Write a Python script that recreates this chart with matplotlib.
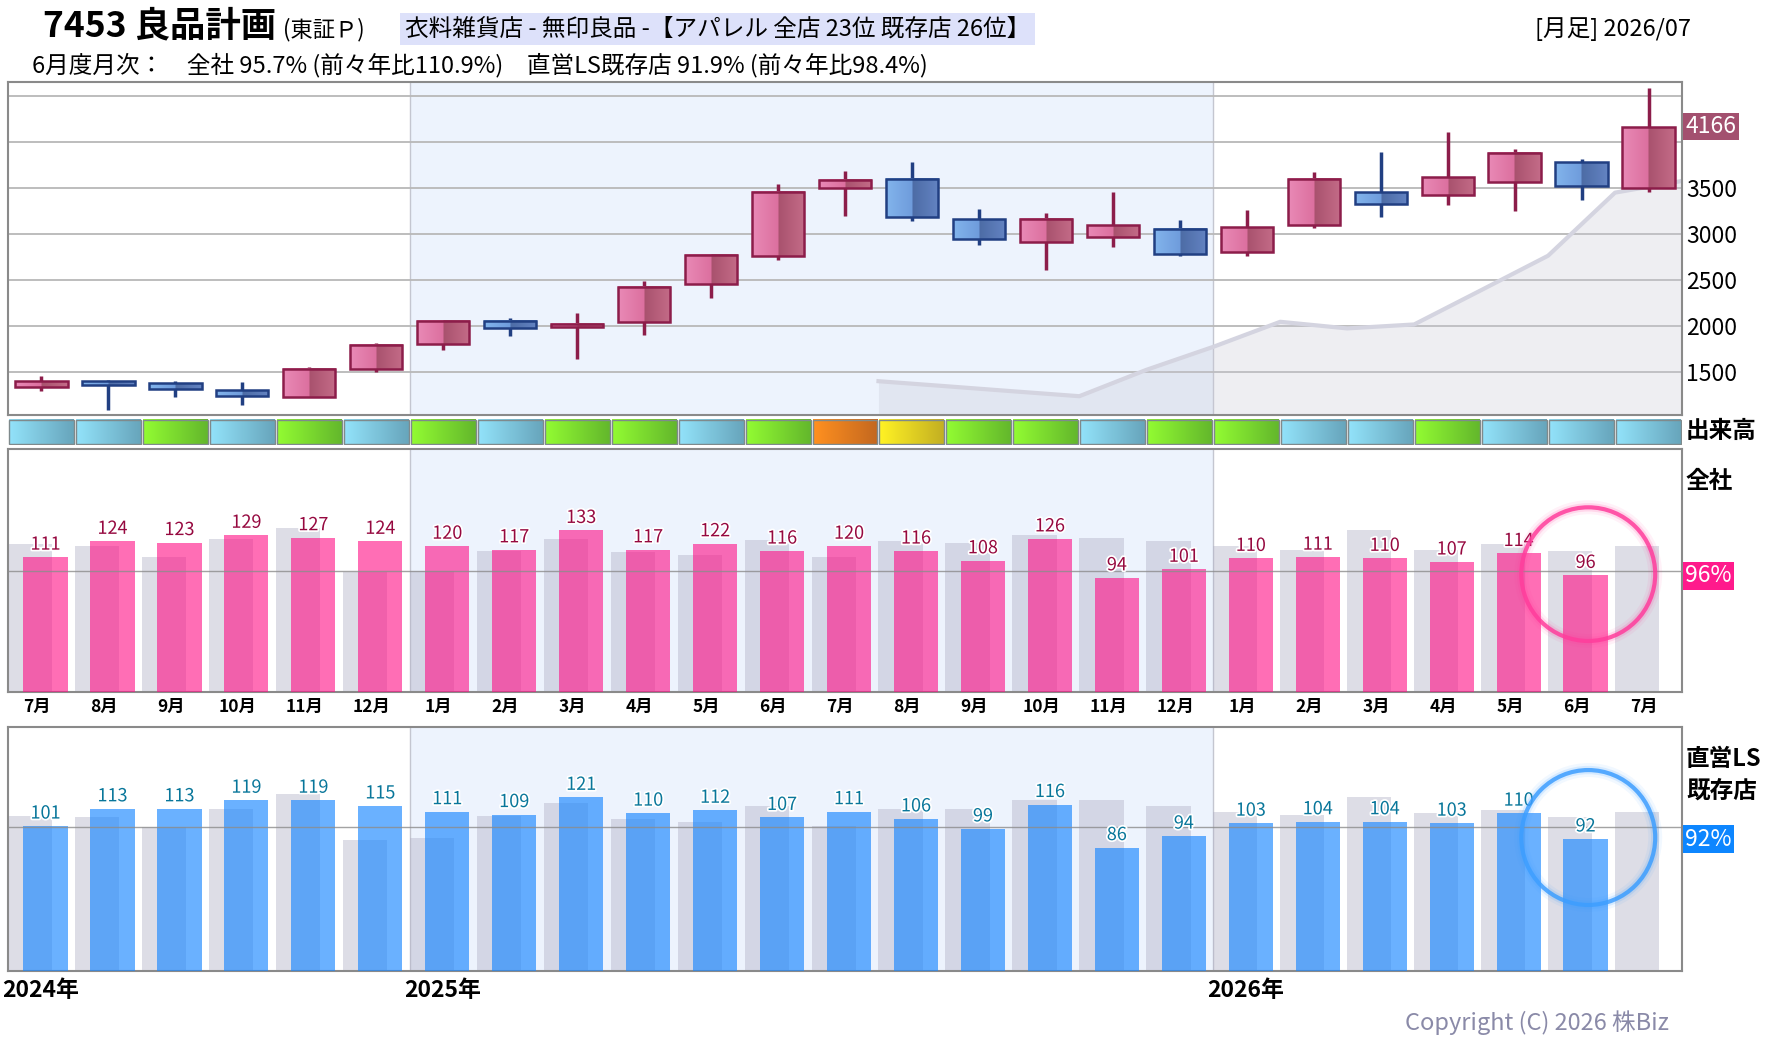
import numpy as np
import matplotlib
matplotlib.use('Agg')
import matplotlib.pyplot as plt
from matplotlib.patches import Rectangle, Ellipse
import matplotlib.patheffects as pe
import matplotlib.transforms as mtransforms
from matplotlib.colors import to_rgb

plt.rcParams['font.family'] = ['Noto Sans CJK JP', 'DejaVu Sans']

# ---- data (Jul 2024 .. Jul 2026) ----
months = ['7月', '8月', '9月', '10月', '11月', '12月', '1月', '2月', '3月', '4月', '5月', '6月',
          '7月', '8月', '9月', '10月', '11月', '12月', '1月', '2月', '3月', '4月', '5月', '6月', '7月']
opens = [1344, 1409, 1377, 1301, 1225, 1529, 1801, 2051, 1986, 2040, 2453, 2757,
         3496, 3594, 3159, 2909, 2964, 3051, 2801, 3094, 3453, 3428, 3562, 3779, 3504]
highs = [1457, 1420, 1399, 1391, 1554, 1815, 2065, 2087, 2141, 2489, 2775, 3543,
         3685, 3783, 3272, 3228, 3457, 3152, 3261, 3674, 3891, 4109, 3924, 3812, 4587]
lows = [1297, 1091, 1232, 1145, 1225, 1504, 1743, 1895, 1645, 1906, 2308, 2721,
        3199, 3145, 2884, 2612, 2862, 2764, 2764, 3069, 3188, 3319, 3254, 3373, 3460]
closes = [1409, 1366, 1312, 1246, 1529, 1790, 2051, 1975, 2025, 2420, 2768, 3453,
          3583, 3181, 2942, 3159, 3094, 2779, 3072, 3594, 3330, 3616, 3877, 3525, 4166]
# moving average line, starting at column boundary 13
ma_start = 13
ma_vals = [1402, 1348, 1293, 1239, 1525, 1775, 2047, 1975, 2018, 2390, 2764, 3449, 3576]
# volume level: 1 low, 2 mid, 3 high, 4 very high
vol_level = [1, 1, 2, 1, 2, 1, 2, 1, 2, 2, 1, 2, 4, 3, 2, 2, 1, 2, 2, 1, 1, 2, 1, 1, 1]

zensha = [111, 124, 123, 129, 127, 124, 120, 117, 133, 117, 122, 116,
          120, 116, 108, 126, 94, 101, 110, 111, 110, 107, 114, 96, None]
zensha_prev = [122, 120, 111, 126, 135, 99, 100, 116, 126, 115, 113, 125,
               111, 124, 123, 129, 127, 124, 120, 117, 133, 117, 122, 116, 120]
ls = [101, 113, 113, 119, 119, 115, 111, 109, 121, 110, 112, 107,
      111, 106, 99, 116, 86, 94, 103, 104, 104, 103, 110, 92, None]
ls_prev = [108, 107, 100, 113, 123, 91, 93, 108, 117, 106, 104, 115,
           101, 113, 113, 119, 119, 115, 111, 109, 121, 110, 112, 107, 111]

n = len(months)
x = np.arange(n)

W, H = 1780, 1054
fig = plt.figure(figsize=(W / 100, H / 100), dpi=100)


def ax_px(left, top, right, bottom):
    return fig.add_axes([left / W, 1 - bottom / H, (right - left) / W, (bottom - top) / H])


def ftext(px, py, s, **kw):
    fig.text(px / W, 1 - py / H, s, **kw)


def grad(c1, c2, m=24):
    a, b = np.array(to_rgb(c1)), np.array(to_rgb(c2))
    t = np.linspace(0, 1, m)[:, None]
    return a + (b - a) * t


def style_frame(ax):
    for s in ax.spines.values():
        s.set_color('#8a8a8a')
        s.set_linewidth(1.5)


shade = '#edf3fd'
L, R = 8, 1682

# ---- price panel ----
ax = ax_px(L, 82, R, 415)
ax.axvspan(5.5, 17.5, color=shade, zorder=0, lw=0)
for xv in (5.5, 17.5):
    ax.axvline(xv, color='#c4c6d0', lw=1, zorder=1)
ax.set_yticks([1500, 2000, 2500, 3000, 3500, 4000, 4500])
ax.set_yticklabels(['1500', '2000', '2500', '3000', '3500', '', ''])
ax.yaxis.tick_right()
ax.tick_params(axis='y', length=0, pad=3, labelsize=16.5)
ax.set_xticks([])
ax.grid(axis='y', color='#b8b8b8', lw=1.3, zorder=1)
style_frame(ax)

ma_x = np.arange(ma_start, ma_start + len(ma_vals)) - 0.5
ax.fill_between(ma_x, ma_vals, 1035, color='#c8c8d6', alpha=0.3, lw=0, zorder=2)
ax.plot(ma_x, ma_vals, color='#d4d4e0', lw=3, zorder=2)

w = 0.78
for i in range(n):
    o, h, l, c = opens[i], highs[i], lows[i], closes[i]
    if c >= o:
        g = np.vstack([grad('#e98ab6', '#dc709f'), grad('#a9526e', '#c46b88')])
        edge = '#8c1d4a'
    else:
        g = np.vstack([grad('#82b4ec', '#6f9cdc'), grad('#4d6ca6', '#6383c2')])
        edge = '#213f82'
    lo, hi = min(o, c), max(o, c)
    ax.plot([i, i], [l, h], color=edge, lw=2.5, zorder=3, solid_capstyle='butt')
    ax.imshow(g[None, :, :], extent=(i - w / 2, i + w / 2, lo, hi), aspect='auto',
              interpolation='bilinear', zorder=4)
    ax.add_patch(Rectangle((i - w / 2, lo), w, hi - lo, fc='none', ec=edge, lw=1.8, zorder=5))
ax.set_xlim(-0.5, n - 0.5)
ax.set_ylim(1035, 4650)
tr = mtransforms.blended_transform_factory(ax.transAxes, ax.transData)
ax.text(1.002, closes[-1], str(closes[-1]), transform=tr, ha='left', va='center',
        fontsize=16.5, color='white',
        bbox=dict(boxstyle='square,pad=0.1', fc='#a3506f', ec='none'))

# ---- volume strip ----
axv = ax_px(L, 419, R, 445)
axv.axis('off')
vcols = {1: ('#92e2fa', '#68a6bc'), 2: ('#92fb32', '#64b82c'),
         3: ('#fff224', '#c4b022'), 4: ('#ff901f', '#c4681f')}
for i in range(n):
    c1, c2 = vcols[vol_level[i]]
    axv.imshow(grad(c1, c2)[None, :, :], extent=(i - 0.485, i + 0.485, 0.02, 0.98),
               aspect='auto', interpolation='bilinear', zorder=2)
    axv.add_patch(Rectangle((i - 0.485, 0.02), 0.97, 0.96, fc='none', ec='#7f8a8c', lw=1, zorder=3))
axv.set_xlim(-0.5, n - 0.5)
axv.set_ylim(0, 1)
ftext(1686, 431, '出来高', fontsize=17, fontweight='bold', va='center', ha='left')


def bar_panel(top, bottom, vals, prev, ymax, color, alpha, tcolor, pct, pcolor, last):
    a = ax_px(L, top, R, bottom)
    a.set_xlim(-0.5, n - 0.5)
    a.set_ylim(0, ymax)
    a.axvspan(5.5, 17.5, color=shade, zorder=0, lw=0)
    for xv in (5.5, 17.5):
        a.axvline(xv, color='#c4c6d0', lw=1, zorder=1)
    a.bar(x - 0.17, prev, width=0.66, color='#b4b4c8', alpha=0.45, zorder=2, lw=0)
    xs = [i for i in range(n) if vals[i] is not None]
    vs = [vals[i] for i in xs]
    a.bar(np.array(xs) + 0.06, vs, width=0.66, color=color, alpha=alpha, zorder=3, lw=0)
    a.axhline(100, color='#8c8c8c', lw=1, alpha=0.8, zorder=4)
    for xi, v in zip(xs, vs):
        a.annotate(str(v), (xi + 0.06, v), xytext=(0, 2.5), textcoords='offset points',
                   ha='center', va='bottom', fontsize=13, color=tcolor, zorder=6,
                   path_effects=[pe.withStroke(linewidth=2.5, foreground='white')])
    a.set_yticks([])
    style_frame(a)
    t = mtransforms.blended_transform_factory(a.transAxes, a.transData)
    a.text(1.002, last, pct, transform=t, ha='left', va='center', fontsize=16.5, color='white',
           bbox=dict(boxstyle='square,pad=0.1', fc=pcolor, ec='none'))
    return a


axm = bar_panel(449, 692, zensha, zensha_prev, 200, (1.0, 0.05, 0.52), 0.6, '#96083f',
                '96%', '#ff1a8c', 95.7)
axb = bar_panel(727, 971, ls, ls_prev, 170, (0.10, 0.53, 1.0), 0.65, '#08769a',
                '92%', '#0d86ff', 91.9)

# highlight rings around the latest month
for a, (cx, cy, hh), col in ((axm, (23.1, 97, 110), '#ff3d9c'), (axb, (23.1, 93, 94), '#3d9eff')):
    for lw_, al in ((10, 0.07), (6, 0.15), (3, 0.85)):
        a.add_patch(Ellipse((cx, cy), 2.0, hh, fill=False, ec=col, lw=lw_, alpha=al, zorder=7))

axm.set_xticks(x - 0.07)
axm.set_xticklabels(months, fontsize=12.5, fontweight='bold')
axm.tick_params(axis='x', length=0, pad=4)
axb.set_xticks([])

ftext(1686, 481, '全社', fontsize=17, fontweight='bold', va='center', ha='left')
ftext(1686, 759, '直営LS', fontsize=17, fontweight='bold', va='center', ha='left')
ftext(1686, 791, '既存店', fontsize=17, fontweight='bold', va='center', ha='left')

# year labels
ty = mtransforms.blended_transform_factory(axb.transData, axb.transAxes)
for xv, s in ((-0.59, '2024年'), (5.41, '2025年'), (17.41, '2026年')):
    axb.text(xv, -0.08, s, transform=ty, ha='left', va='center', fontsize=16.5, fontweight='bold')

# ---- header ----
ftext(43, 26, '7453 良品計画', fontsize=25.5, fontweight='bold', va='center')
ftext(283, 30, '(東証Ｐ)', fontsize=16, va='center')
ftext(405, 29, '衣料雑貨店 - 無印良品 -【アパレル 全店 23位 既存店 26位】', fontsize=17, va='center',
      bbox=dict(boxstyle='square,pad=0.2', fc='#dde1fa', ec='none'))
ftext(1691, 29, '[月足] 2026/07', fontsize=17, va='center', ha='right')
ftext(32, 65, '6月度月次：　全社 95.7% (前々年比110.9%)　直営LS既存店 91.9% (前々年比98.4%)',
      fontsize=17, va='center')
ftext(1669, 1023, 'Copyright (C) 2026 株Biz', fontsize=17, va='center', ha='right', color='#8a8aa8')

fig.savefig('out.png', dpi=100)
